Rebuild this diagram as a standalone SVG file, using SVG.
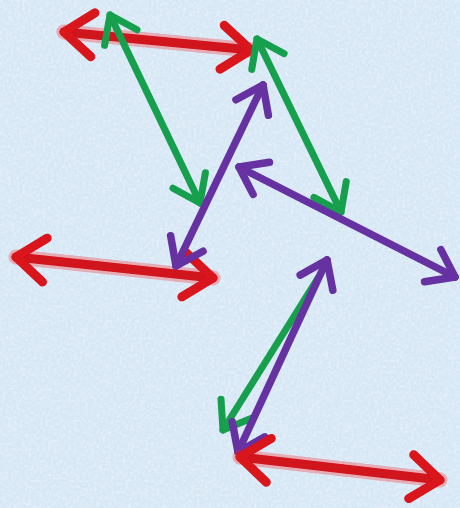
<svg xmlns="http://www.w3.org/2000/svg" width="460" height="508" viewBox="0 0 460 508">
<style>
.red{stroke:#d0121e;stroke-width:9;fill:none;stroke-linecap:round;stroke-linejoin:round}
.redglow{stroke:#ff1818;stroke-opacity:0.3;stroke-width:15;fill:none;stroke-linecap:round}
.green{stroke:#18a04e;stroke-width:7;fill:none;stroke-linecap:round;stroke-linejoin:round}
.purple{stroke:#6632a2;stroke-width:7.5;fill:none;stroke-linecap:round;stroke-linejoin:round}
</style>
<defs>
<filter id="noise" x="0" y="0" width="100%" height="100%">
<feTurbulence type="fractalNoise" baseFrequency="0.35" numOctaves="3" seed="4" result="n"/>
<feColorMatrix in="n" type="matrix" values="0 0 0 0 1  0 0 0 0 1  0 0 0 0 1  0 0 0 -0.9 0.55"/>
</filter>
<filter id="soft" x="-5%" y="-5%" width="110%" height="110%">
<feGaussianBlur stdDeviation="0.7"/>
</filter>
<marker id="hr" markerUnits="userSpaceOnUse" viewBox="-40 -30 50 60" markerWidth="50" markerHeight="60" refX="0" refY="0" orient="auto-start-reverse" overflow="visible">
<path d="M-29,-22 L0,0 L-29,22" fill="none" stroke="#d8121c" stroke-width="9" stroke-linecap="round" stroke-linejoin="round"/>
</marker>
<marker id="hg" markerUnits="userSpaceOnUse" viewBox="-40 -30 50 60" markerWidth="50" markerHeight="60" refX="0" refY="0" orient="auto-start-reverse" overflow="visible">
<path d="M-25,-18 L0,0 L-25,18" fill="none" stroke="#18a04e" stroke-width="7" stroke-linecap="round" stroke-linejoin="round"/>
</marker>
<marker id="hp" markerUnits="userSpaceOnUse" viewBox="-40 -30 50 60" markerWidth="50" markerHeight="60" refX="0" refY="0" orient="auto-start-reverse" overflow="visible">
<path d="M-25,-18 L0,0 L-25,18" fill="none" stroke="#6632a2" stroke-width="7.5" stroke-linecap="round" stroke-linejoin="round"/>
</marker>
</defs>
<rect width="460" height="508" fill="#d6e7f5"/>
<rect width="460" height="508" filter="url(#noise)"/>
<g id="connectors" filter="url(#soft)">
<line class="redglow" x1="64" y1="32" x2="251" y2="50"/>
<line class="red" x1="64" y1="32" x2="251" y2="50" marker-start="url(#hr)" marker-end="url(#hr)"/>
<line class="redglow" x1="16" y1="257" x2="213" y2="278"/>
<line class="red" x1="16" y1="257" x2="213" y2="278" marker-start="url(#hr)" marker-end="url(#hr)"/>
<line class="green" x1="110" y1="15" x2="200" y2="203" marker-start="url(#hg)" marker-end="url(#hg)"/>
<line class="green" x1="257" y1="39" x2="341" y2="212" marker-start="url(#hg)" marker-end="url(#hg)"/>
<line class="green" x1="318" y1="278" x2="223" y2="430" marker-end="url(#hg)"/>
<line class="purple" x1="263" y1="85" x2="176" y2="266" marker-start="url(#hp)" marker-end="url(#hp)"/>
<line class="purple" x1="239" y1="167" x2="455" y2="277" marker-start="url(#hp)" marker-end="url(#hp)"/>
<line class="purple" x1="327" y1="260" x2="238" y2="452" marker-start="url(#hp)" marker-end="url(#hp)"/>
<line class="redglow" x1="240" y1="457" x2="440" y2="480"/>
<line class="red" x1="240" y1="457" x2="440" y2="480" marker-start="url(#hr)" marker-end="url(#hr)"/>
</g>
</svg>
